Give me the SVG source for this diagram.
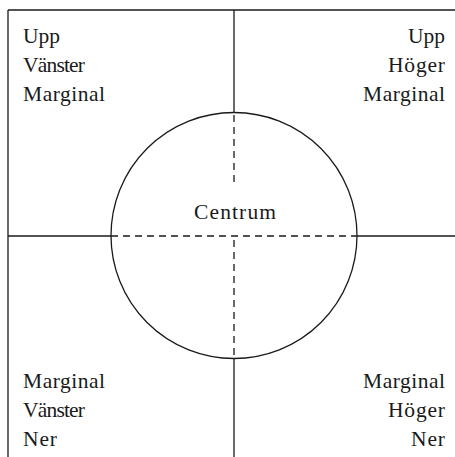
<svg xmlns="http://www.w3.org/2000/svg" width="455" height="457" viewBox="0 0 455 457">
<style>
.ln{stroke:#1a1a1a;stroke-width:1.3;fill:none}
.dash{stroke:#1a1a1a;stroke-width:1.3;stroke-dasharray:7 5;fill:none}
text{font-family:"Liberation Serif","Times New Roman",serif;font-size:21.5px;fill:#1a1a1a}
.r{text-anchor:end}
.c{text-anchor:middle}
</style>
<rect width="455" height="457" fill="#fff"/>
<g id="connectors">
<line class="ln" x1="8" y1="10" x2="455" y2="10"/>
<line class="ln" x1="8" y1="10" x2="8" y2="457"/>
<line class="ln" x1="8" y1="236" x2="111" y2="236"/>
<line class="ln" x1="357" y1="236" x2="455" y2="236"/>
<line class="ln" x1="234" y1="10" x2="234" y2="113"/>
<line class="ln" x1="234" y1="358" x2="234" y2="457"/>
<line class="dash" x1="111" y1="236" x2="357" y2="236"/>
<line class="dash" x1="234" y1="115" x2="234" y2="183"/>
<line class="dash" x1="234" y1="240" x2="234" y2="358"/>
</g>
<g id="circle">
<circle class="ln" cx="234" cy="235.5" r="123"/>
<text class="c" x="235" y="219" textLength="82" lengthAdjust="spacing">Centrum</text>
</g>
<g id="top-left">
<text x="23" y="43" textLength="37" lengthAdjust="spacing">Upp</text>
<text x="23" y="72" textLength="62" lengthAdjust="spacing">Vänster</text>
<text x="23" y="101" textLength="82" lengthAdjust="spacing">Marginal</text>
</g>
<g id="top-right">
<text class="r" x="445" y="43" textLength="37" lengthAdjust="spacing">Upp</text>
<text class="r" x="445" y="72" textLength="57" lengthAdjust="spacing">Höger</text>
<text class="r" x="445" y="101" textLength="82" lengthAdjust="spacing">Marginal</text>
</g>
<g id="bottom-left">
<text x="23" y="388" textLength="82" lengthAdjust="spacing">Marginal</text>
<text x="23" y="417" textLength="62" lengthAdjust="spacing">Vänster</text>
<text x="23" y="446" textLength="34" lengthAdjust="spacing">Ner</text>
</g>
<g id="bottom-right">
<text class="r" x="445" y="388" textLength="82" lengthAdjust="spacing">Marginal</text>
<text class="r" x="445" y="417" textLength="57" lengthAdjust="spacing">Höger</text>
<text class="r" x="445" y="446" textLength="34" lengthAdjust="spacing">Ner</text>
</g>
</svg>
